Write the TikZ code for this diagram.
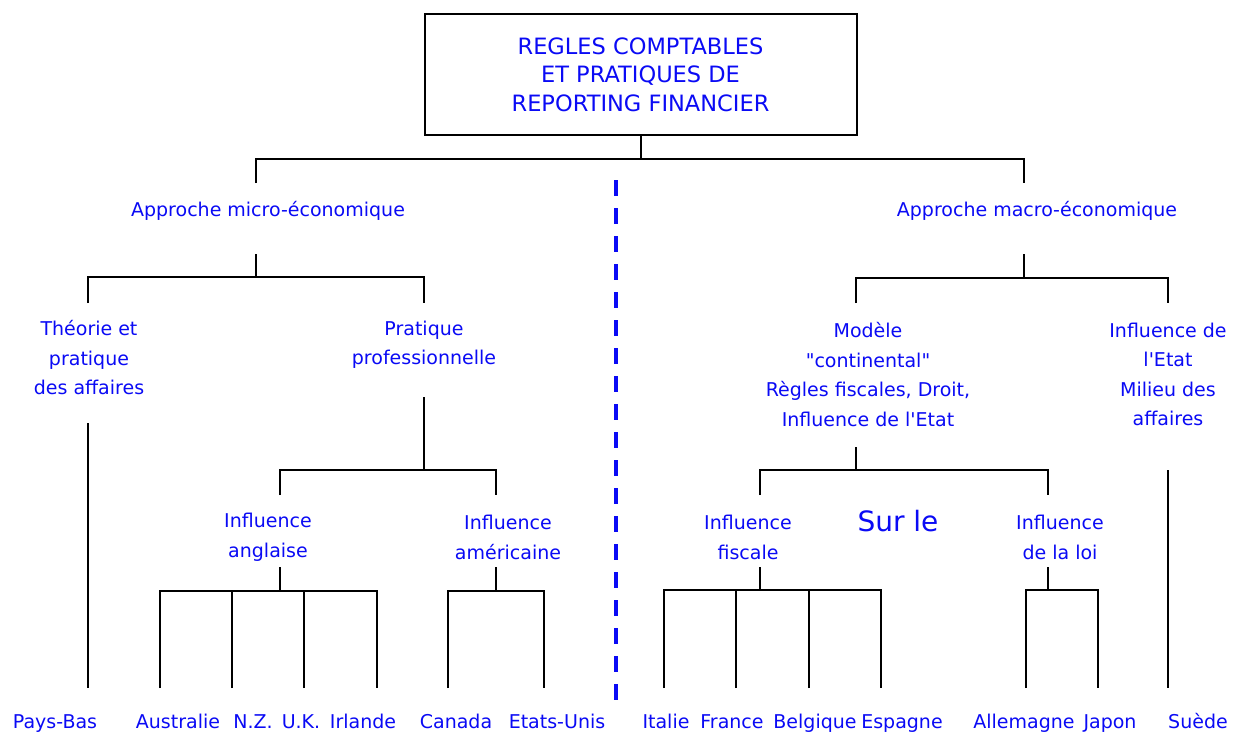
\documentclass[tikz,border=0pt]{standalone}
\usepackage{fontspec}
\setmainfont{DejaVu Sans}
\definecolor{txtblue}{RGB}{10,10,245}
\newcommand{\apos}{\textquotesingle}
\newcommand{\dq}{\textquotedbl}
\begin{document}
\begin{tikzpicture}[x=1pt,y=-1pt,
  lbl/.style={text=txtblue, font=\fontsize{19}{29.5}\selectfont, align=center, inner sep=0pt},
  ctry/.style={lbl, anchor=base},
  conn/.style={draw=black, line width=2pt},
  divider/.style={draw=txtblue, line width=3.5pt, dash pattern=on 16pt off 12pt}]
\useasboundingbox[fill=white] (0,0) rectangle (1240,747);

% root
\node[lbl, font=\fontsize{22.5}{28.5}\selectfont, draw=black, line width=2pt, minimum width=432pt, minimum height=121pt] (title) at (640.5,74.5)
  {REGLES COMPTABLES\\ET PRATIQUES DE\\REPORTING FINANCIER};
\draw[conn] (title.south) -- ++(0,23) coordinate (rootJ);
\coordinate (microT) at (256,183);
\coordinate (macroT) at (1024,183);
\draw[conn] (microT) |- (rootJ) -| (macroT);

\node[lbl] (micro) at (268,211) {Approche micro-économique};
\node[lbl] (macro) at (1037,211) {Approche macro-économique};

% divider
\coordinate (divT) at (616,180);
\coordinate (divB) at (616,704);
\draw[divider] (divT) -- (divB);

% micro branch
\coordinate (microS) at (256,254);
\draw[conn] (microS) -- ++(0,23) coordinate (microJ);
\coordinate (theoT) at (88,303);
\coordinate (pratT) at (424,303);
\draw[conn] (theoT) |- (microJ) -| (pratT);

\node[lbl] (theo) at (89,358) {Théorie et\\pratique\\des affaires};
\node[lbl] (prat) at (424,345) {Pratique\\professionnelle};

\coordinate (theoS) at (88,423);
\coordinate (pb) at (88,688);
\draw[conn] (theoS) -- (pb);

\coordinate (pratS) at (424,397);
\draw[conn] (pratS) -- ++(0,73) coordinate (pratJ);
\coordinate (anglT) at (280,495);
\coordinate (ameT) at (496,495);
\draw[conn] (anglT) |- (pratJ) -| (ameT);

\node[lbl] (angl) at (268,537.5) {Influence\\anglaise};
\node[lbl] (ame) at (508,537.5) {Influence\\américaine};

\coordinate (anglS) at (280,567);
\draw[conn] (anglS) -- ++(0,24) coordinate (anglJ);
\coordinate (au) at (160,688);
\coordinate (nz) at (232,688);
\coordinate (uk) at (304,688);
\coordinate (ir) at (377,688);
\draw[conn] (au) |- (anglJ) -| (ir);
\draw[conn] (nz) -- (nz |- anglJ);
\draw[conn] (uk) -- (uk |- anglJ);

\coordinate (ameS) at (496,567);
\draw[conn] (ameS) -- ++(0,24) coordinate (ameJ);
\coordinate (ca) at (448,688);
\coordinate (us) at (544,688);
\draw[conn] (ca) |- (ameJ) -| (us);

% macro branch
\coordinate (macroS) at (1024,254);
\draw[conn] (macroS) -- ++(0,24) coordinate (macroJ);
\coordinate (modT) at (856,303);
\coordinate (etatT) at (1168,303);
\draw[conn] (modT) |- (macroJ) -| (etatT);

\node[lbl] (mod) at (868,374.5) {Modèle\\\dq continental\dq\\Règles fiscales, Droit,\\Influence de l\apos Etat};
\node[lbl] (etat) at (1168,374.5) {Influence de\\l\apos Etat\\Milieu des\\affaires};

\coordinate (modS) at (856,447);
\draw[conn] (modS) -- ++(0,23) coordinate (modJ);
\coordinate (fiscT) at (760,495);
\coordinate (loiT) at (1048,495);
\draw[conn] (fiscT) |- (modJ) -| (loiT);

\node[lbl] (fisc) at (748,537.5) {Influence\\fiscale};
\node[lbl] (loi) at (1060,537.5) {Influence\\de la loi};
\node[lbl, font=\fontsize{28}{32}\selectfont] (surle) at (898,521) {Sur le};

\coordinate (fiscS) at (760,567);
\draw[conn] (fiscS) -- ++(0,23) coordinate (fiscJ);
\coordinate (it) at (664,688);
\coordinate (fr) at (736,688);
\coordinate (be) at (809,688);
\coordinate (es) at (881,688);
\draw[conn] (it) |- (fiscJ) -| (es);
\draw[conn] (fr) -- (fr |- fiscJ);
\draw[conn] (be) -- (be |- fiscJ);

\coordinate (loiS) at (1048,567);
\draw[conn] (loiS) -- ++(0,23) coordinate (loiJ);
\coordinate (de) at (1026,688);
\coordinate (jp) at (1098,688);
\draw[conn] (de) |- (loiJ) -| (jp);

\coordinate (etatS) at (1168,470);
\coordinate (se) at (1168,688);
\draw[conn] (etatS) -- (se);

% countries
\node[ctry] (lPB) at (55,728) {Pays-Bas};
\node[ctry] (lAU) at (178,728) {Australie};
\node[ctry] (lNZ) at (253,728) {N.Z.};
\node[ctry] (lUK) at (301,728) {U.K.};
\node[ctry] (lIR) at (363,728) {Irlande};
\node[ctry] (lCA) at (456,728) {Canada};
\node[ctry] (lUS) at (557,728) {Etats-Unis};
\node[ctry] (lIT) at (666,728) {Italie};
\node[ctry] (lFR) at (732,728) {France};
\node[ctry] (lBE) at (815,728) {Belgique};
\node[ctry] (lES) at (902,728) {Espagne};
\node[ctry] (lDE) at (1024,728) {Allemagne};
\node[ctry] (lJP) at (1110,728) {Japon};
\node[ctry] (lSE) at (1198,728) {Suède};
\end{tikzpicture}
\end{document}
